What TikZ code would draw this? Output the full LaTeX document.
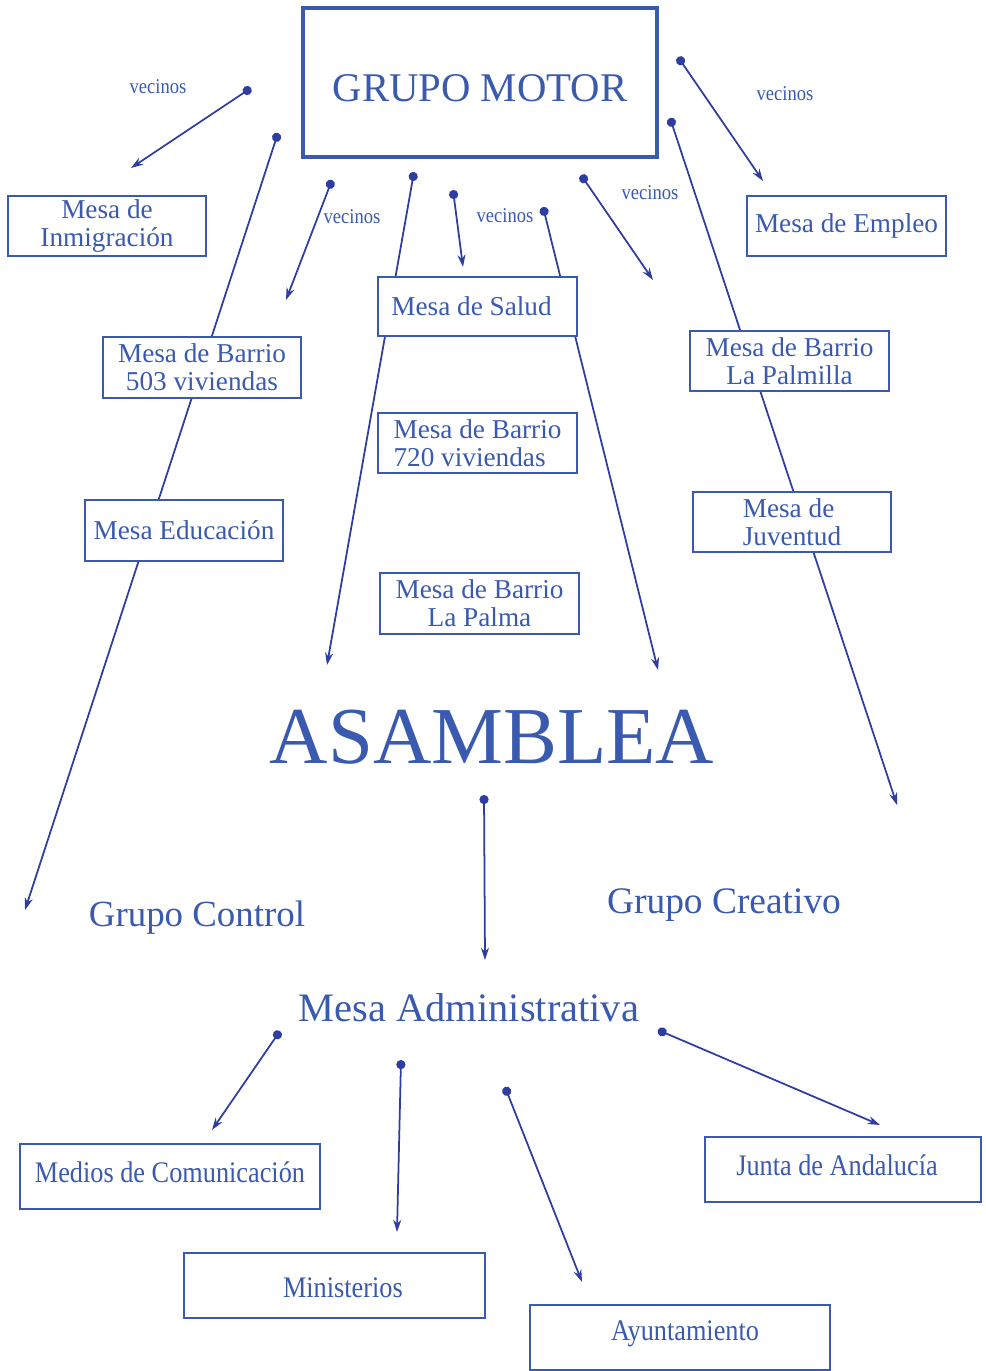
\documentclass[tikz,border=0pt]{standalone}
\usepackage{fontspec}
\setmainfont{Liberation Serif}
\newfontfamily\narrowfont[FakeStretch=0.88]{Liberation Serif}
\usetikzlibrary{arrows.meta}
\definecolor{ink}{RGB}{58,90,176}
\definecolor{linea}{RGB}{46,62,160}
\newcommand{\mover}[2]{\raisebox{#1}[\height][\depth]{#2}}
\tikzset{
  mesa/.style={draw=ink, line width=1.1pt, fill=white, text=ink, align=center,
    inner sep=1pt, font=\fontsize{15.5}{16}\selectfont},
  oficina/.style={mesa, minimum width=6cm, minimum height=1.3cm,
    font=\narrowfont\fontsize{17}{18}\selectfont},
  rotulo/.style={text=ink, inner sep=0pt},
  vecinos/.style={rotulo, font=\narrowfont\fontsize{12}{12}\selectfont},
  enlace/.style={draw=linea, line width=1pt, {Circle[length=5.2pt]}-{Stealth[length=7pt,width=4.6pt]}}
}
\begin{document}
\begin{tikzpicture}[x=0.02cm, y=-0.02cm]
  \useasboundingbox (0,0) rectangle (986,1371);

  %%%%% puntos de salida y llegada %%%%%
  \coordinate (s1) at (251,88);   \coordinate (t1) at (131,168);
  \coordinate (s2) at (278,133);  \coordinate (t2) at (25,910);
  \coordinate (s3) at (332,180);  \coordinate (t3) at (286,300);
  \coordinate (s4) at (414,172);  \coordinate (t4) at (327,665);
  \coordinate (s5) at (453,190);  \coordinate (t5) at (463,267);
  \coordinate (s6) at (543,207);  \coordinate (t6) at (658,670);
  \coordinate (s7) at (581,175);  \coordinate (t7) at (653,280);
  \coordinate (s8) at (678,57);   \coordinate (t8) at (763,181);
  \coordinate (s9) at (670,118);  \coordinate (t9) at (897,805);
  \coordinate (s10) at (484,795); \coordinate (t10) at (485,960);
  \coordinate (s11) at (280,1031); \coordinate (t11) at (212,1130);
  \coordinate (s12) at (401,1060); \coordinate (t12) at (397,1232);
  \coordinate (s13) at (505,1087); \coordinate (t13) at (582,1282);
  \coordinate (s14) at (658,1030); \coordinate (t14) at (880,1125);

  \foreach \n in {1,...,14}
    \draw[enlace] (s\n) -- (t\n);

  %%%%% grupo motor %%%%%
  \node[mesa, line width=2pt, minimum width=7.08cm, minimum height=2.98cm,
    font=\fontsize{23.2}{24}\selectfont] (motor) at (480,82.5) {\mover{-3.4pt}{GRUPO MOTOR}};

  \node[vecinos] (vec1) at (158,87) {vecinos};
  \node[vecinos] (vec2) at (785,94) {vecinos};
  \node[vecinos] (vec3) at (352,217) {vecinos};
  \node[vecinos] (vec4) at (505,216) {vecinos};
  \node[vecinos] (vec5) at (650,193) {vecinos};

  %%%%% mesas %%%%%
  \node[mesa, minimum width=3.96cm, minimum height=1.2cm] (inmigracion) at (107,226) {Mesa de\\Inmigración};
  \node[mesa, minimum width=3.96cm, minimum height=1.22cm] (barrio503) at (202,367.5) {Mesa de Barrio\\503 viviendas};
  \node[mesa, minimum width=3.96cm, minimum height=1.22cm] (educacion) at (184,530.5) {Mesa Educación};
  \node[mesa, minimum width=3.98cm, minimum height=1.18cm] (salud) at (477.5,306.5) {Mesa de Salud\hspace*{6.8pt}};
  \node[mesa, align=left, minimum width=3.98cm, minimum height=1.2cm] (barrio720) at (477.5,443) {Mesa de Barrio\\720 viviendas};
  \node[mesa, minimum width=3.98cm, minimum height=1.22cm] (lapalma) at (479.5,603.5) {Mesa de Barrio\\La Palma};
  \node[mesa, minimum width=3.98cm, minimum height=1.2cm] (empleo) at (846.5,226) {Mesa de Empleo};
  \node[mesa, minimum width=3.98cm, minimum height=1.2cm] (palmilla) at (789.5,361) {Mesa de Barrio\\La Palmilla};
  \node[mesa, align=left, minimum width=3.96cm, minimum height=1.2cm] (juventud) at (792,522) {Mesa de\\Juventud};

  %%%%% asamblea %%%%%
  \node[rotulo, font=\fontsize{46}{46}\selectfont] (asamblea) at (492,737) {ASAMBLEA};
  \node[rotulo, font=\fontsize{21}{22}\selectfont] (control) at (197,918) {Grupo Control};
  \node[rotulo, font=\fontsize{21.3}{22}\selectfont] (creativo) at (724,905) {Grupo Creativo};
  \node[rotulo, font=\fontsize{23}{24}\selectfont] (admin) at (469,1008) {Mesa Administrativa};

  %%%%% oficinas %%%%%
  \node[oficina] (medios) at (170,1176.5) {\mover{2.3pt}{Medios de Comunicación}};
  \node[oficina, minimum width=6.02cm] (ministerios) at (334.5,1285.5) {\hspace*{9.6pt}\mover{-1.5pt}{Ministerios}};
  \node[oficina] (ayuntamiento) at (680,1337.5) {\hspace*{5.7pt}\mover{2.3pt}{Ayuntamiento}};
  \node[oficina, minimum width=5.52cm] (junta) at (843,1169.5) {\mover{2.3pt}{Junta de Andalucía}\hspace*{6.8pt}};
\end{tikzpicture}
\end{document}
